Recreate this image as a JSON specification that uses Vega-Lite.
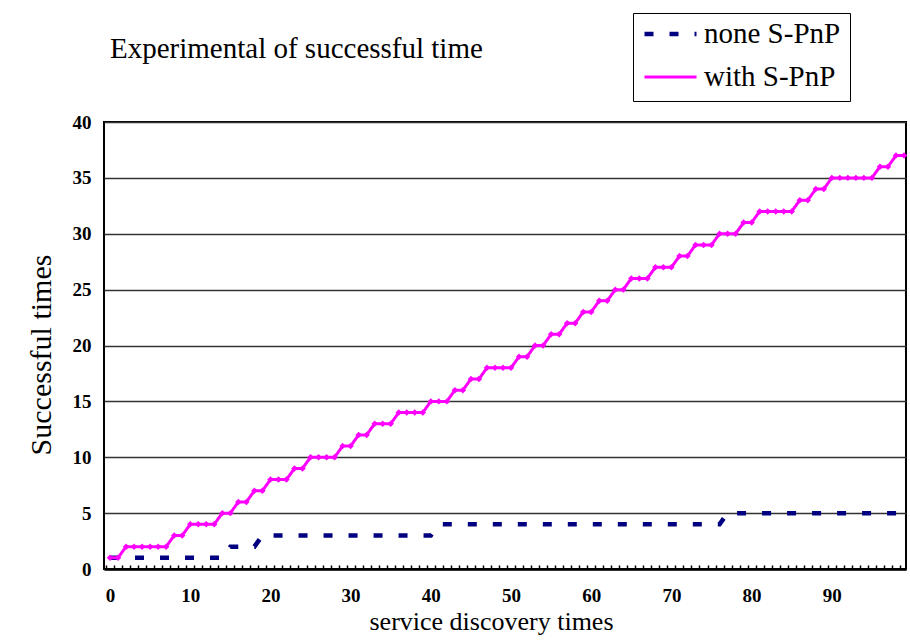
{
  "$schema": "https://vega.github.io/schema/vega-lite/v6.json",
  "width": 802,
  "height": 447,
  "autosize": {"type": "none"},
  "padding": {"left": 104, "top": 122, "right": 4, "bottom": 72},
  "background": "white",
  "title": {"text": "Experimental of successful time", "anchor": "start", "frame": "group", "font": "Liberation Serif, Times New Roman, serif", "fontSize": 29, "fontWeight": "normal", "color": "black", "baseline": "alphabetic", "offset": 64, "dx": 6, "dy": 138},
  "data": {"values": [
    {"x":0,"series":"none S-PnP","y":1},{"x":1,"series":"none S-PnP","y":1},{"x":2,"series":"none S-PnP","y":1},{"x":3,"series":"none S-PnP","y":1},{"x":4,"series":"none S-PnP","y":1},{"x":5,"series":"none S-PnP","y":1},{"x":6,"series":"none S-PnP","y":1},{"x":7,"series":"none S-PnP","y":1},{"x":8,"series":"none S-PnP","y":1},{"x":9,"series":"none S-PnP","y":1},
    {"x":10,"series":"none S-PnP","y":1},{"x":11,"series":"none S-PnP","y":1},{"x":12,"series":"none S-PnP","y":1},{"x":13,"series":"none S-PnP","y":1},{"x":14,"series":"none S-PnP","y":1},{"x":15,"series":"none S-PnP","y":2},{"x":16,"series":"none S-PnP","y":2},{"x":17,"series":"none S-PnP","y":2},{"x":18,"series":"none S-PnP","y":2},{"x":19,"series":"none S-PnP","y":3},
    {"x":20,"series":"none S-PnP","y":3},{"x":21,"series":"none S-PnP","y":3},{"x":22,"series":"none S-PnP","y":3},{"x":23,"series":"none S-PnP","y":3},{"x":24,"series":"none S-PnP","y":3},{"x":25,"series":"none S-PnP","y":3},{"x":26,"series":"none S-PnP","y":3},{"x":27,"series":"none S-PnP","y":3},{"x":28,"series":"none S-PnP","y":3},{"x":29,"series":"none S-PnP","y":3},
    {"x":30,"series":"none S-PnP","y":3},{"x":31,"series":"none S-PnP","y":3},{"x":32,"series":"none S-PnP","y":3},{"x":33,"series":"none S-PnP","y":3},{"x":34,"series":"none S-PnP","y":3},{"x":35,"series":"none S-PnP","y":3},{"x":36,"series":"none S-PnP","y":3},{"x":37,"series":"none S-PnP","y":3},{"x":38,"series":"none S-PnP","y":3},{"x":39,"series":"none S-PnP","y":3},
    {"x":40,"series":"none S-PnP","y":3},{"x":41,"series":"none S-PnP","y":4},{"x":42,"series":"none S-PnP","y":4},{"x":43,"series":"none S-PnP","y":4},{"x":44,"series":"none S-PnP","y":4},{"x":45,"series":"none S-PnP","y":4},{"x":46,"series":"none S-PnP","y":4},{"x":47,"series":"none S-PnP","y":4},{"x":48,"series":"none S-PnP","y":4},{"x":49,"series":"none S-PnP","y":4},
    {"x":50,"series":"none S-PnP","y":4},{"x":51,"series":"none S-PnP","y":4},{"x":52,"series":"none S-PnP","y":4},{"x":53,"series":"none S-PnP","y":4},{"x":54,"series":"none S-PnP","y":4},{"x":55,"series":"none S-PnP","y":4},{"x":56,"series":"none S-PnP","y":4},{"x":57,"series":"none S-PnP","y":4},{"x":58,"series":"none S-PnP","y":4},{"x":59,"series":"none S-PnP","y":4},
    {"x":60,"series":"none S-PnP","y":4},{"x":61,"series":"none S-PnP","y":4},{"x":62,"series":"none S-PnP","y":4},{"x":63,"series":"none S-PnP","y":4},{"x":64,"series":"none S-PnP","y":4},{"x":65,"series":"none S-PnP","y":4},{"x":66,"series":"none S-PnP","y":4},{"x":67,"series":"none S-PnP","y":4},{"x":68,"series":"none S-PnP","y":4},{"x":69,"series":"none S-PnP","y":4},
    {"x":70,"series":"none S-PnP","y":4},{"x":71,"series":"none S-PnP","y":4},{"x":72,"series":"none S-PnP","y":4},{"x":73,"series":"none S-PnP","y":4},{"x":74,"series":"none S-PnP","y":4},{"x":75,"series":"none S-PnP","y":4},{"x":76,"series":"none S-PnP","y":4},{"x":77,"series":"none S-PnP","y":5},{"x":78,"series":"none S-PnP","y":5},{"x":79,"series":"none S-PnP","y":5},
    {"x":80,"series":"none S-PnP","y":5},{"x":81,"series":"none S-PnP","y":5},{"x":82,"series":"none S-PnP","y":5},{"x":83,"series":"none S-PnP","y":5},{"x":84,"series":"none S-PnP","y":5},{"x":85,"series":"none S-PnP","y":5},{"x":86,"series":"none S-PnP","y":5},{"x":87,"series":"none S-PnP","y":5},{"x":88,"series":"none S-PnP","y":5},{"x":89,"series":"none S-PnP","y":5},
    {"x":90,"series":"none S-PnP","y":5},{"x":91,"series":"none S-PnP","y":5},{"x":92,"series":"none S-PnP","y":5},{"x":93,"series":"none S-PnP","y":5},{"x":94,"series":"none S-PnP","y":5},{"x":95,"series":"none S-PnP","y":5},{"x":96,"series":"none S-PnP","y":5},{"x":97,"series":"none S-PnP","y":5},{"x":98,"series":"none S-PnP","y":5},{"x":99,"series":"none S-PnP","y":5},
    {"x":0,"series":"with S-PnP","y":1},{"x":1,"series":"with S-PnP","y":1},{"x":2,"series":"with S-PnP","y":2},{"x":3,"series":"with S-PnP","y":2},{"x":4,"series":"with S-PnP","y":2},{"x":5,"series":"with S-PnP","y":2},{"x":6,"series":"with S-PnP","y":2},{"x":7,"series":"with S-PnP","y":2},{"x":8,"series":"with S-PnP","y":3},{"x":9,"series":"with S-PnP","y":3},
    {"x":10,"series":"with S-PnP","y":4},{"x":11,"series":"with S-PnP","y":4},{"x":12,"series":"with S-PnP","y":4},{"x":13,"series":"with S-PnP","y":4},{"x":14,"series":"with S-PnP","y":5},{"x":15,"series":"with S-PnP","y":5},{"x":16,"series":"with S-PnP","y":6},{"x":17,"series":"with S-PnP","y":6},{"x":18,"series":"with S-PnP","y":7},{"x":19,"series":"with S-PnP","y":7},
    {"x":20,"series":"with S-PnP","y":8},{"x":21,"series":"with S-PnP","y":8},{"x":22,"series":"with S-PnP","y":8},{"x":23,"series":"with S-PnP","y":9},{"x":24,"series":"with S-PnP","y":9},{"x":25,"series":"with S-PnP","y":10},{"x":26,"series":"with S-PnP","y":10},{"x":27,"series":"with S-PnP","y":10},{"x":28,"series":"with S-PnP","y":10},{"x":29,"series":"with S-PnP","y":11},
    {"x":30,"series":"with S-PnP","y":11},{"x":31,"series":"with S-PnP","y":12},{"x":32,"series":"with S-PnP","y":12},{"x":33,"series":"with S-PnP","y":13},{"x":34,"series":"with S-PnP","y":13},{"x":35,"series":"with S-PnP","y":13},{"x":36,"series":"with S-PnP","y":14},{"x":37,"series":"with S-PnP","y":14},{"x":38,"series":"with S-PnP","y":14},{"x":39,"series":"with S-PnP","y":14},
    {"x":40,"series":"with S-PnP","y":15},{"x":41,"series":"with S-PnP","y":15},{"x":42,"series":"with S-PnP","y":15},{"x":43,"series":"with S-PnP","y":16},{"x":44,"series":"with S-PnP","y":16},{"x":45,"series":"with S-PnP","y":17},{"x":46,"series":"with S-PnP","y":17},{"x":47,"series":"with S-PnP","y":18},{"x":48,"series":"with S-PnP","y":18},{"x":49,"series":"with S-PnP","y":18},
    {"x":50,"series":"with S-PnP","y":18},{"x":51,"series":"with S-PnP","y":19},{"x":52,"series":"with S-PnP","y":19},{"x":53,"series":"with S-PnP","y":20},{"x":54,"series":"with S-PnP","y":20},{"x":55,"series":"with S-PnP","y":21},{"x":56,"series":"with S-PnP","y":21},{"x":57,"series":"with S-PnP","y":22},{"x":58,"series":"with S-PnP","y":22},{"x":59,"series":"with S-PnP","y":23},
    {"x":60,"series":"with S-PnP","y":23},{"x":61,"series":"with S-PnP","y":24},{"x":62,"series":"with S-PnP","y":24},{"x":63,"series":"with S-PnP","y":25},{"x":64,"series":"with S-PnP","y":25},{"x":65,"series":"with S-PnP","y":26},{"x":66,"series":"with S-PnP","y":26},{"x":67,"series":"with S-PnP","y":26},{"x":68,"series":"with S-PnP","y":27},{"x":69,"series":"with S-PnP","y":27},
    {"x":70,"series":"with S-PnP","y":27},{"x":71,"series":"with S-PnP","y":28},{"x":72,"series":"with S-PnP","y":28},{"x":73,"series":"with S-PnP","y":29},{"x":74,"series":"with S-PnP","y":29},{"x":75,"series":"with S-PnP","y":29},{"x":76,"series":"with S-PnP","y":30},{"x":77,"series":"with S-PnP","y":30},{"x":78,"series":"with S-PnP","y":30},{"x":79,"series":"with S-PnP","y":31},
    {"x":80,"series":"with S-PnP","y":31},{"x":81,"series":"with S-PnP","y":32},{"x":82,"series":"with S-PnP","y":32},{"x":83,"series":"with S-PnP","y":32},{"x":84,"series":"with S-PnP","y":32},{"x":85,"series":"with S-PnP","y":32},{"x":86,"series":"with S-PnP","y":33},{"x":87,"series":"with S-PnP","y":33},{"x":88,"series":"with S-PnP","y":34},{"x":89,"series":"with S-PnP","y":34},
    {"x":90,"series":"with S-PnP","y":35},{"x":91,"series":"with S-PnP","y":35},{"x":92,"series":"with S-PnP","y":35},{"x":93,"series":"with S-PnP","y":35},{"x":94,"series":"with S-PnP","y":35},{"x":95,"series":"with S-PnP","y":35},{"x":96,"series":"with S-PnP","y":36},{"x":97,"series":"with S-PnP","y":36},{"x":98,"series":"with S-PnP","y":37},{"x":99,"series":"with S-PnP","y":37}
  ]},
  "encoding": {
    "y": {"field": "y", "type": "quantitative",
      "scale": {"domain": [0, 40], "nice": false, "zero": true},
      "axis": {"values": [0,5,10,15,20,25,30,35,40], "grid": true, "gridColor": "#333333", "gridWidth": 1.6, "ticks": false, "domain": false, "labelPadding": 13,
        "labelFont": "Liberation Serif, Times New Roman, serif", "labelFontWeight": "bold", "labelFontSize": 19,
        "title": "Successful times", "titleFont": "Liberation Serif, Times New Roman, serif", "titleFontSize": 30, "titleX": -54, "titleY": 232.5, "titleBaseline": "alphabetic", "titleAngle": -90}}
  },
  "layer": [
    {
      "mark": {"type": "line", "strokeCap": "butt"},
      "encoding": {
        "x": {"field": "x", "type": "quantitative",
          "scale": {"domain": [-0.75, 99.25], "nice": false, "zero": false},
          "axis": {"orient": "bottom", "values": [0,10,20,30,40,50,60,70,80,90], "ticks": false, "grid": false, "domain": true, "domainWidth": 2.5, "domainColor": "black", "labelPadding": 17, "labelFlush": false,
            "labelFont": "Liberation Serif, Times New Roman, serif", "labelFontWeight": "bold", "labelFontSize": 19,
            "title": "service discovery times", "titleFont": "Liberation Serif, Times New Roman, serif", "titleFontSize": 26, "titleX": 387, "titleY": 60, "titleBaseline": "alphabetic"}},
        "color": {"field": "series", "type": "nominal",
          "scale": {"domain": ["none S-PnP", "with S-PnP"], "range": ["#000080", "#FF00FF"]},
          "legend": {"orient": "none", "legendX": 529, "legendY": -109, "title": null, "symbolType": "stroke", "symbolSize": 2704, "labelFontSize": 29, "labelFont": "Liberation Serif, Times New Roman, serif", "labelFontWeight": "normal", "labelColor": "black", "strokeColor": "black", "fillColor": "white", "padding": 9, "rowPadding": 14, "clipHeight": 24, "labelOffset": 5}},
        "strokeDash": {"field": "series", "type": "nominal",
          "scale": {"domain": ["none S-PnP", "with S-PnP"], "range": [[9, 16], [1, 0]]}},
        "strokeWidth": {"field": "series", "type": "nominal",
          "scale": {"domain": ["none S-PnP", "with S-PnP"], "range": [4.5, 3]}}
      }
    },
    {
      "transform": [{"filter": "datum.series == 'with S-PnP'"}],
      "mark": {"type": "point", "shape": "diamond", "filled": true, "color": "#FF00FF", "size": 42, "opacity": 1},
      "encoding": {
        "x": {"field": "x", "type": "quantitative",
          "axis": {"orient": "bottom", "values": [-0.5,0.5,1.5,2.5,3.5,4.5,5.5,6.5,7.5,8.5,9.5,10.5,11.5,12.5,13.5,14.5,15.5,16.5,17.5,18.5,19.5,20.5,21.5,22.5,23.5,24.5,25.5,26.5,27.5,28.5,29.5,30.5,31.5,32.5,33.5,34.5,35.5,36.5,37.5,38.5,39.5,40.5,41.5,42.5,43.5,44.5,45.5,46.5,47.5,48.5,49.5,50.5,51.5,52.5,53.5,54.5,55.5,56.5,57.5,58.5,59.5,60.5,61.5,62.5,63.5,64.5,65.5,66.5,67.5,68.5,69.5,70.5,71.5,72.5,73.5,74.5,75.5,76.5,77.5,78.5,79.5,80.5,81.5,82.5,83.5,84.5,85.5,86.5,87.5,88.5,89.5,90.5,91.5,92.5,93.5,94.5,95.5,96.5,97.5,98.5],
            "labels": false, "domain": false, "grid": false, "ticks": true, "tickSize": -4, "tickWidth": 1.5, "tickColor": "black", "title": null}}
      }
    }
  ],
  "resolve": {"axis": {"x": "independent"}},
  "config": {
    "font": "Liberation Serif, Times New Roman, serif",
    "view": {"stroke": "black", "strokeWidth": 2},
    "axis": {"labelFont": "Liberation Serif, Times New Roman, serif", "titleFont": "Liberation Serif, Times New Roman, serif", "labelFontWeight": "bold", "labelFontSize": 19, "labelColor": "black", "titleColor": "black", "titleFontWeight": "normal"},
    "legend": {"labelFont": "Liberation Serif, Times New Roman, serif"}
  }
}
